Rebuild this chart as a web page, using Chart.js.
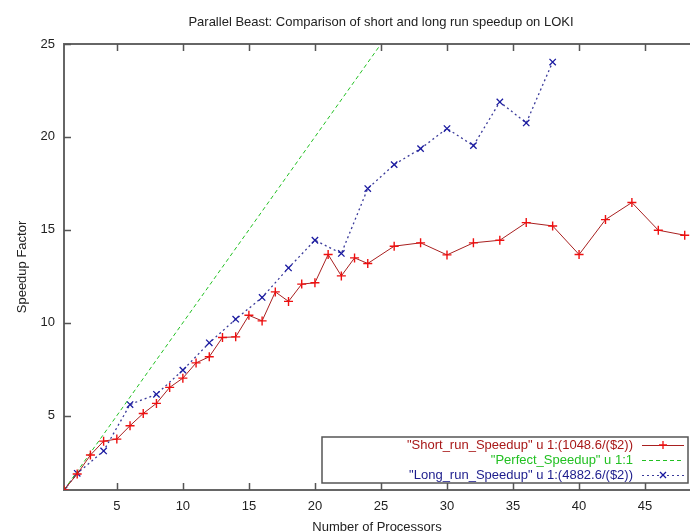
<!DOCTYPE html>
<html>
<head>
<meta charset="utf-8">
<script src="https://cdn.jsdelivr.net/npm/chart.js@4.4.0/dist/chart.umd.min.js"></script>
<style>
html,body{margin:0;padding:0;background:#fff;overflow:hidden;}
#chart-div{width:690px;height:532px;}
</style>
</head>
<body>
<div id="chart-div"><canvas id="myChart" width="690" height="532"></canvas></div>
<script>
// values
let shortX = [1,2,3,4,5,6,7,8,9,10,11,12,13,14,15,16,17,18,19,20,21,22,23,24,26,28,30,32,34,36,38,40,42,44,46,48];
let shortY = [1,1.86,2.88,3.63,3.74,4.46,5.12,5.66,6.52,7.02,7.84,8.17,9.21,9.24,10.4,10.1,11.66,11.15,12.08,12.15,13.67,12.52,13.49,13.19,14.12,14.3,13.65,14.3,14.44,15.39,15.21,13.67,15.55,16.47,14.98,14.71];
let perfectX = [1,25];
let perfectY = [1,25];
let longX = [1,2,4,6,8,10,12,14,16,18,20,22,24,26,28,30,32,34,36,38];
let longY = [1,1.9,3.1,5.6,6.15,7.45,8.92,10.19,11.36,12.95,14.44,13.73,17.22,18.51,19.37,20.45,19.53,21.88,20.75,24.03];
let xTicks = [5,10,15,20,25,30,35,40,45];
let yTicks = [5,10,15,20,25];
let legendLabels = ['"Short_run_Speedup" u 1:(1048.6/($2))', '"Perfect_Speedup" u 1:1', '"Long_run_Speedup" u 1:(4882.6/($2))'];
let chartTitle = 'Parallel Beast: Comparison of short and long run speedup on LOKI';

let FONT = "'Liberation Sans', Arial, sans-serif";

let toPoints = (xs, ys) => xs.map((x, i) => ({x: x, y: ys[i]}));

let gnuplotBits = {
    id: 'gnuplotBits',
    afterDraw: (chart) => {
        let ctx = chart.ctx;
        let a = chart.chartArea;
        let xs = chart.scales.x, ys = chart.scales.y;
        ctx.save();
        // title
        ctx.fillStyle = '#222';
        ctx.font = '13px ' + FONT;
        ctx.textAlign = 'center';
        ctx.textBaseline = 'middle';
        ctx.fillText(chartTitle, 381, 22);
        // top border
        ctx.strokeStyle = '#666';
        ctx.lineWidth = 2;
        ctx.beginPath();
        ctx.moveTo(a.left, a.top);
        ctx.lineTo(a.right, a.top);
        ctx.stroke();
        // inward ticks
        ctx.lineWidth = 1.5;
        ctx.strokeStyle = '#555';
        ctx.beginPath();
        xTicks.forEach(v => {
            let px = Math.round(xs.getPixelForValue(v)) + 0.5;
            ctx.moveTo(px, a.bottom); ctx.lineTo(px, a.bottom - 7);
            ctx.moveTo(px, a.top); ctx.lineTo(px, a.top + 7);
        });
        yTicks.forEach(v => {
            let py = Math.round(ys.getPixelForValue(v)) + 0.5;
            ctx.moveTo(a.left, py); ctx.lineTo(a.left + 7, py);
        });
        ctx.stroke();
        // key box
        let bx = 322, by = 437, bw = 366, bh = 46;
        ctx.fillStyle = '#fff';
        ctx.fillRect(bx, by, bw, bh);
        ctx.strokeStyle = '#555';
        ctx.lineWidth = 1.5;
        ctx.strokeRect(bx, by, bw, bh);
        let rows = [445, 460, 475];
        let textColors = ['#a81818', '#22c022', '#1c1c8c'];
        ctx.font = '13px ' + FONT;
        ctx.textAlign = 'right';
        ctx.textBaseline = 'middle';
        chart.data.datasets.forEach((ds, i) => {
            let y = rows[i];
            ctx.fillStyle = textColors[i];
            ctx.fillText(legendLabels[i], 633, y);
            ctx.strokeStyle = ds.borderColor;
            ctx.lineWidth = 1;
            ctx.setLineDash(ds.borderDash || []);
            ctx.beginPath();
            ctx.moveTo(642, y + 0.5);
            ctx.lineTo(684, y + 0.5);
            ctx.stroke();
            ctx.setLineDash([]);
            if (ds.pointRadius > 0) {
                ctx.strokeStyle = ds.pointBorderColor;
                ctx.lineWidth = 1.3;
                ctx.beginPath();
                if (ds.pointStyle == 'cross') {
                    ctx.moveTo(663 - 4, y); ctx.lineTo(663 + 4, y);
                    ctx.moveTo(663, y - 4); ctx.lineTo(663, y + 4);
                } else {
                    ctx.moveTo(663 - 3, y - 3); ctx.lineTo(663 + 3, y + 3);
                    ctx.moveTo(663 - 3, y + 3); ctx.lineTo(663 + 3, y - 3);
                }
                ctx.stroke();
            }
        });
        ctx.restore();
    }
};

new Chart('myChart', {
    type: 'scatter',
    data: {
        datasets: [{
            label: legendLabels[0],
            data: toPoints(shortX, shortY),
            showLine: true,
            borderColor: '#a82020',
            borderWidth: 1,
            pointStyle: 'cross',
            pointRadius: 4.5,
            pointBorderColor: '#ee1010',
            pointBorderWidth: 1.4,
            pointBackgroundColor: '#ee1010'
        }, {
            label: legendLabels[1],
            data: toPoints(perfectX, perfectY),
            showLine: true,
            borderColor: '#22c022',
            borderWidth: 1,
            borderDash: [4, 3],
            pointRadius: 0
        }, {
            label: legendLabels[2],
            data: toPoints(longX, longY),
            showLine: true,
            borderColor: '#3a3a9a',
            borderWidth: 1.3,
            borderDash: [2, 3],
            pointStyle: 'crossRot',
            pointRadius: 4.5,
            pointBorderColor: '#1a1aa0',
            pointBorderWidth: 1.3,
            pointBackgroundColor: '#1a1aa0'
        }]
    },
    options: {
        responsive: false,
        animation: false,
        layout: {autoPadding: false, padding: {top: 44, right: 0, left: 0, bottom: 0}},
        plugins: {
            legend: {display: false},
            tooltip: {enabled: false},
            title: {display: false}
        },
        scales: {
            x: {
                type: 'linear',
                min: 1,
                max: 48.4,
                afterBuildTicks: (axis) => { axis.ticks = xTicks.map(v => ({value: v})); },
                afterFit: (axis) => { axis.height = 42; axis.paddingRight = 0; axis.paddingLeft = 0; },
                grid: {display: false, drawTicks: false},
                border: {display: true, color: '#666', width: 2},
                ticks: {color: '#222', font: {family: FONT, size: 13}, padding: 9, maxRotation: 0},
                title: {display: true, text: 'Number of Processors', color: '#222', font: {family: FONT, size: 13}, padding: {top: 0, bottom: -3}}
            },
            y: {
                type: 'linear',
                min: 1,
                max: 25,
                afterBuildTicks: (axis) => { axis.ticks = yTicks.map(v => ({value: v})); },
                afterFit: (axis) => { axis.width = 64; axis.paddingTop = 0; axis.paddingBottom = 0; },
                grid: {display: false, drawTicks: false},
                border: {display: true, color: '#666', width: 2},
                ticks: {color: '#222', font: {family: FONT, size: 13}, padding: 9},
                title: {display: true, text: 'Speedup Factor', color: '#222', font: {family: FONT, size: 13}, padding: {top: 15, bottom: 0}}
            }
        }
    },
    plugins: [gnuplotBits]
});
</script>
</body>
</html>
